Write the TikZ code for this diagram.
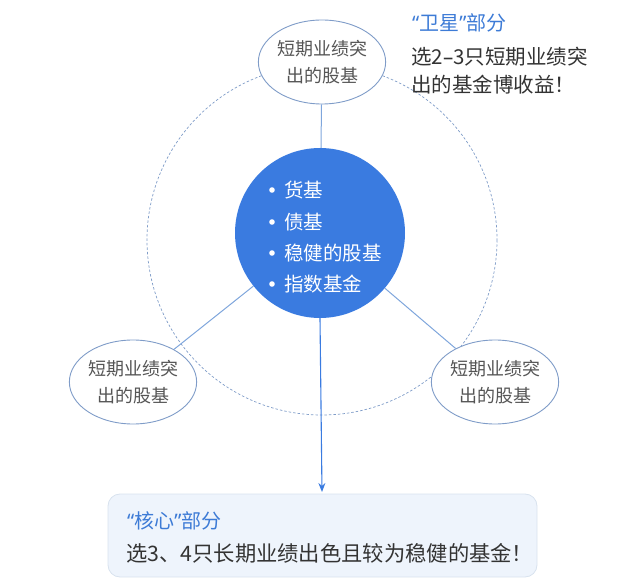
\documentclass[tikz,border=0pt]{standalone}
\usepackage{fontspec}
\setmainfont{Noto Sans CJK SC}
\newfontfamily\cjk{Noto Sans CJK SC}
\newfontfamily\latinq{Noto Sans}
\usetikzlibrary{shapes.geometric,arrows.meta}
\definecolor{mainblue}{HTML}{3A7BE0}
\definecolor{titleblue}{HTML}{3D7BD6}
\definecolor{ellline}{HTML}{7F9CC8}
\definecolor{linkline}{HTML}{7FA6DC}
\definecolor{txtgray}{HTML}{555555}
\definecolor{dark}{HTML}{333333}
\definecolor{boxfill}{HTML}{EEF4FC}
\definecolor{boxline}{HTML}{D8E2EE}
\tikzset{
  satell/.style={ellipse, draw=ellline, line width=0.9pt, fill=white, minimum width=124pt, minimum height=84pt, inner sep=0pt, align=center, font=\cjk\fontsize{18}{27}\selectfont, text=txtgray},
  link/.style={draw=linkline, line width=1pt},
  bul/.style={anchor=west, text=white, font=\cjk\fontsize{19.5}{20}\selectfont, inner sep=0pt}
}
\begin{document}
\begin{tikzpicture}[x=1pt,y=-1pt]
\useasboundingbox (0,0) rectangle (640,585);
% dashed circle
\draw[draw=ellline, dashed, dash pattern=on 2.5pt off 2pt, line width=0.7pt] (322,240) circle (175);
% central circle
\node[circle, fill=mainblue, minimum size=170pt, inner sep=0pt] (core) at (320,233) {};
% satellites
\node[satell] (top) at (322,62) {短期业绩突\\出的股基};
\node[satell] (left) at (133,382) {短期业绩突\\出的股基};
\node[satell] (right) at (495,382) {短期业绩突\\出的股基};
\draw[link] (top) -- (core);
\draw[link] (left) -- (core);
\draw[link] (right) -- (core);
% bullets
\foreach \t/\y [count=\i] in {货基/190, 债基/222, 稳健的股基/253, 指数基金/284}{
  \fill[white] (272,\y) circle (2.8);
  \node[bul] (b\i) at (284,\y) {\t};
}
% bottom box
\node[draw=boxline, fill=boxfill, rounded corners=12pt, line width=0.8pt, minimum width=429pt, minimum height=83pt, inner sep=0pt] (corebox) at (322.5,535.5) {};
\coordinate (arrowend) at (322,492);
\draw[draw=mainblue, line width=1.1pt, -{Stealth[length=9pt,width=7pt]}] (core.south) -- (arrowend);
\node[anchor=west, inner sep=0pt, text=titleblue, font=\cjk\fontsize{20}{22}\selectfont] (coret) at (127,521) {{\latinq “}核心{\latinq ”}部分};
\node[anchor=west, inner sep=0pt, text=dark, font=\cjk\fontsize{21.3}{22}\selectfont] (cored) at (126,553) {选3、4只长期业绩出色且较为稳健的基金！};
% top right text
\node[anchor=west, inner sep=0pt, text=titleblue, font=\cjk\fontsize{20}{22}\selectfont] (satt) at (412,23) {{\latinq “}卫星{\latinq ”}部分};
\node[anchor=north west, inner sep=0pt, text=dark, align=left, font=\cjk\fontsize{20.5}{28}\selectfont] (satd) at (411,47) {选2{\latinq –}3只短期业绩突\\出的基金博收益！};
\end{tikzpicture}
\end{document}
